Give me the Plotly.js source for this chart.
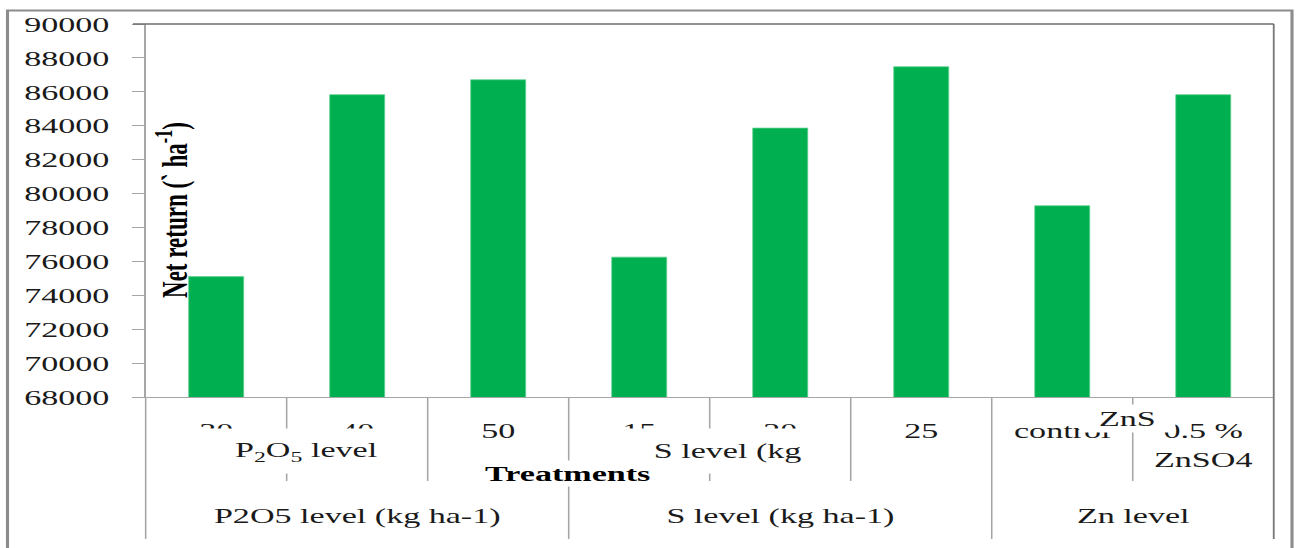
<!DOCTYPE html>
<html>
<head>
<meta charset="utf-8">
<script src="https://cdn.plot.ly/plotly-3.0.1.min.js"></script>
<style>
  html, body { margin: 0; padding: 0; overflow: hidden; background: #fff; }
  /* the chart is laid out narrow and widened horizontally, Excel-export style */
  #chart { width: 837px; height: 548px; transform: scaleX(1.54958); transform-origin: 0 0; }
</style>
</head>
<body>
<div id="chart"></div>
<script>
// Net return per treatment level
const groups = [
  'P2O5 level (kg ha-1)', 'P2O5 level (kg ha-1)', 'P2O5 level (kg ha-1)',
  'S level (kg ha-1)', 'S level (kg ha-1)', 'S level (kg ha-1)',
  'Zn level', 'Zn level'
];
const categories = ['30', '40', '50', '15', '20', '25', 'control', '0.5 %<br>ZnSO4'];
const netReturn = [75100, 85830, 86710, 76250, 83860, 87480, 79280, 85830];

const yRange = [68000, 90000];
const yStep = 2000;

const yTitle = '<b>Net return (` ha<sup>-1</sup>)</b>';
const xTitle = '<b>Treatments</b>';
const floatingLabels = ['P<sub>2</sub>O<sub>5</sub> level', 'S level (kg', 'ZnS'];

// page geometry (unscaled layout units)
const W = 837, H = 548;
const SX = 1297 / W;
const M = { l: 94, r: 15, t: 24, b: 151 };
const PW = W - M.l - M.r, PH = H - M.t - M.b;
// screen pixel -> paper coordinate helpers
const px = v => (v / SX - M.l) / PW;
const py = v => 1 - (v - M.t) / PH;

const serif = '"Liberation Serif", "Times New Roman", serif';
const txt = '#1a1a1a';
const n = categories.length;
const idx = categories.map((_, i) => i);

const trace = {
  type: 'bar',
  x: idx,
  y: netReturn,
  marker: { color: '#00B050', line: { color: '#5fd08f', width: 0.6 } },
  hoverinfo: 'y'
};

// dividers between categories: short inside a group, long between groups
const shapes = [];
for (let i = 1; i < n; i++) {
  const isGroupEdge = groups[i] !== groups[i - 1];
  shapes.push({
    type: 'line', xref: 'x', yref: 'paper',
    x0: i - 0.5, x1: i - 0.5, y0: 0, y1: py(isGroupEdge ? 539 : 481),
    line: { color: '#a6a6a6', width: 1 }
  });
}
// left edge below the axis, right and top plot borders
shapes.push({ type: 'line', xref: 'paper', yref: 'paper', x0: 0, x1: 0, y0: 0, y1: py(539),
  line: { color: '#a6a6a6', width: 1 } });
shapes.push({ type: 'line', xref: 'paper', yref: 'paper', x0: 1, x1: 1, y0: 1, y1: py(539),
  line: { color: '#7a7a7a', width: 1.2 } });
shapes.push({ type: 'line', xref: 'paper', yref: 'paper', x0: px(133), x1: 1, y0: 1, y1: 1,
  line: { color: '#6e6e6e', width: 1.3 } });
// outer chart frame
shapes.push({ type: 'rect', xref: 'paper', yref: 'paper',
  x0: px(7.5), x1: px(1292), y0: py(600), y1: py(10.5),
  line: { color: '#8c8c8c', width: 2 }, fillcolor: 'rgba(0,0,0,0)' });

const annotations = [];
// group labels centred under each group
const seen = [];
groups.forEach(g => { if (!seen.includes(g)) seen.push(g); });
seen.forEach(g => {
  const first = groups.indexOf(g), last = groups.lastIndexOf(g);
  annotations.push({
    xref: 'x', yref: 'paper', x: (first + last) / 2, y: py(515),
    text: g, showarrow: false, xanchor: 'center', yanchor: 'middle',
    font: { family: serif, size: 22, color: txt }
  });
});
// floating white text boxes laid over the axis labels
annotations.push({
  xref: 'paper', yref: 'paper', x: px(306), y: py(451), xanchor: 'center', yanchor: 'middle',
  text: floatingLabels[0], showarrow: false, bgcolor: '#ffffff', borderpad: 0,
  width: 145, height: 44, font: { family: serif, size: 22, color: txt }
});
annotations.push({
  xref: 'paper', yref: 'paper', x: px(727), y: py(451), xanchor: 'center', yanchor: 'middle',
  text: floatingLabels[1], showarrow: false, bgcolor: '#ffffff', borderpad: 0,
  width: 145, height: 44, font: { family: serif, size: 22, color: txt }
});
annotations.push({
  xref: 'paper', yref: 'paper', x: px(1128), y: py(418), xanchor: 'center', yanchor: 'middle',
  text: floatingLabels[2], showarrow: false, bgcolor: '#ffffff', borderpad: 0,
  width: 61, height: 27, font: { family: serif, size: 22, color: txt }
});
annotations.push({
  xref: 'paper', yref: 'paper', x: px(568), y: py(474), xanchor: 'center', yanchor: 'middle',
  text: xTitle, showarrow: false, bgcolor: '#ffffff', borderpad: 0,
  font: { family: serif, size: 22, color: '#000' }
});
// y-axis title sits inside the plot area
annotations.push({
  xref: 'paper', yref: 'paper', x: px(172), y: py(210), xanchor: 'center', yanchor: 'middle',
  text: yTitle, textangle: -90, showarrow: false,
  font: { family: serif, size: 23, color: '#000' }
});

const layout = {
  width: W, height: H,
  margin: M,
  paper_bgcolor: '#ffffff', plot_bgcolor: '#ffffff',
  showlegend: false,
  bargap: 0.61,
  font: { family: serif, size: 22, color: txt },
  xaxis: {
    type: 'linear', range: [-0.5, n - 0.5],
    tickmode: 'array', tickvals: idx, ticktext: categories,
    ticks: '', showgrid: false, zeroline: false,
    showline: true, linecolor: '#a6a6a6', linewidth: 1,
    ticklabelstandoff: 14,
    tickfont: { family: serif, size: 22, color: txt }
  },
  yaxis: {
    range: yRange, tick0: yRange[0], dtick: yStep, tickformat: 'd',
    ticks: 'outside', ticklen: 8, tickcolor: '#a6a6a6', tickwidth: 1,
    showgrid: false, zeroline: false,
    showline: true, linecolor: '#a6a6a6', linewidth: 1,
    ticklabelstandoff: 10,
    tickfont: { family: serif, size: 22, color: txt }
  },
  shapes: shapes,
  annotations: annotations
};

Plotly.newPlot('chart', [trace], layout, { displayModeBar: false, staticPlot: true });
</script>
</body>
</html>
